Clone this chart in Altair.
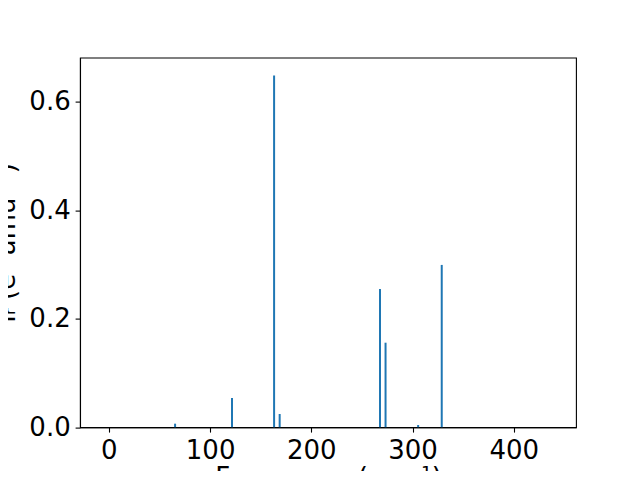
import altair as alt
import pandas as pd

# Mode frequencies (cm^-1) and intensities
frequencies = [65.4, 121.6, 163.2, 168.7, 267.8, 273.3, 305.5, 328.8]
intensities = [0.0065, 0.0538, 0.648, 0.0243, 0.2546, 0.1557, 0.004, 0.299]

x_ticks = [0, 100, 200, 300, 400]
y_ticks = [0.0, 0.2, 0.4, 0.6]
x_domain = [-23.6, 456.5]
y_domain = [0.0, 0.681]

df = pd.DataFrame({"freq": frequencies, "inten": intensities})

FONT = "DejaVu Sans"
FS = 26

chart = (
    alt.Chart(df)
    .mark_bar(size=2, color="#1f77b4")
    .encode(
        x=alt.X(
            "freq:Q",
            scale=alt.Scale(domain=x_domain, nice=False, zero=False),
            axis=alt.Axis(
                values=x_ticks,
                title="Frequency (cm⁻¹)",
                titleY=57.8,
                titleBaseline="alphabetic",
                format="d",
            ),
        ),
        y=alt.Y(
            "inten:Q",
            scale=alt.Scale(domain=y_domain, nice=False),
            axis=alt.Axis(
                values=y_ticks,
                format=".1f",
                title="Iᵣ (e² amu⁻¹)",
                titleX=-66,
                titleAngle=270,
                titleBaseline="alphabetic",
                titleAlign="center",
            ),
        ),
    )
    .properties(
        width=496,
        height=369.6,
        autosize=alt.AutoSizeParams(type="none"),
        padding={"left": 72, "top": 49.6, "right": 52, "bottom": 43.8},
        background="white",
    )
    .configure_view(stroke="black", strokeWidth=1.1)
    .configure_axis(
        grid=False,
        domain=True,
        domainColor="black",
        domainWidth=1.1,
        ticks=True,
        tickColor="black",
        tickWidth=1.1,
        tickSize=4.9,
        labelFont=FONT,
        labelFontSize=FS,
        labelColor="black",
        labelPadding=4.9,
        titleFont=FONT,
        titleFontSize=FS,
        titleFontWeight="normal",
        titleColor="black",
        labelFlush=False,
        labelOverlap=False,
    )
)

chart.save("out.html", embed_options={"renderer": "svg", "actions": False})
